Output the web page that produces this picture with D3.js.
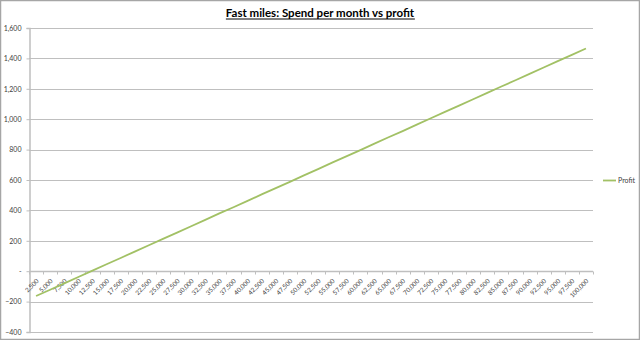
<!DOCTYPE html>
<html>
<head>
<meta charset="utf-8">
<script src="https://cdn.jsdelivr.net/npm/d3@7"></script>
<style>
  html, body { margin: 0; padding: 0; background: #fff; }
  svg { display: block; }
  text { font-family: Lato, "Open Sans", "Liberation Sans", sans-serif; }
</style>
</head>
<body>
<svg id="chart" width="640" height="340"></svg>
<script>
// ---- Data ----
const spend = [
  "2,500","5,000","7,500","10,000","12,500","15,000","17,500","20,000","22,500","25,000",
  "27,500","30,000","32,500","35,000","37,500","40,000","42,500","45,000","47,500","50,000",
  "52,500","55,000","57,500","60,000","62,500","65,000","67,500","70,000","72,500","75,000",
  "77,500","80,000","82,500","85,000","87,500","90,000","92,500","95,000","97,500","100,000"
];
const profit = [
  -163, -122, -80, -38, 4, 46, 87, 129, 171, 213,
  254, 296, 338, 380, 421, 463, 505, 547, 588, 630,
  672, 714, 755, 797, 839, 881, 922, 964, 1006, 1048,
  1089, 1131, 1173, 1215, 1256, 1298, 1340, 1382, 1423, 1465
];
const yTicks = [-400, -200, 0, 200, 400, 600, 800, 1000, 1200, 1400, 1600];
const seriesName = "Profit";
const title = "Fast miles: Spend per month vs profit";

// ---- Layout ----
const W = 640, H = 340;
const plot = { left: 29, right: 593, top: 28, bottom: 332 };
const gridColor = "#bfbfbf";
const lineColor = "#a2c165";
const textColor = "#404040";

const svg = d3.select("#chart");

// border
svg.append("rect")
  .attr("x", 0.5).attr("y", 0.5)
  .attr("width", W - 1).attr("height", H - 1)
  .attr("fill", "#fff").attr("stroke", "#a6a6a6").attr("stroke-width", 1.5);

// scales
const x = d3.scaleBand().domain(spend).range([plot.left, plot.right]).padding(0);
const y = d3.scaleLinear().domain([-400, 1600]).range([plot.bottom, plot.top]);

// gridlines
svg.append("g").selectAll("line").data(yTicks).join("line")
  .attr("x1", plot.left).attr("x2", plot.right)
  .attr("y1", d => Math.round(y(d)) + 0.5).attr("y2", d => Math.round(y(d)) + 0.5)
  .attr("stroke", gridColor).attr("stroke-width", 1);

// y axis
const fmt = d3.format(",");
const yAxis = d3.axisLeft(y).tickValues(yTicks).tickSize(3).tickPadding(5)
  .tickFormat(d => d === 0 ? "-" : fmt(d));
const gy = svg.append("g").attr("transform", `translate(${plot.left + 0.5},0)`).call(yAxis);
gy.select(".domain").attr("stroke", gridColor).attr("stroke-width", 1.5);
gy.selectAll(".tick line").attr("stroke", gridColor);
gy.selectAll(".tick text").attr("fill", textColor).style("font-size", "7px");

// x axis (at y = 0)
const y0 = Math.round(y(0)) + 0.5;
const gx = svg.append("g").attr("transform", `translate(0,${y0})`);
gx.append("line").attr("x1", plot.left).attr("x2", plot.right)
  .attr("y1", 0).attr("y2", 0).attr("stroke", gridColor).attr("stroke-width", 1.5);
const boundaries = spend.map(d => x(d)).concat([x.range()[1]]);
gx.selectAll("line.tk").data(boundaries).join("line").attr("class", "tk")
  .attr("x1", d => Math.round(d) + 0.5).attr("x2", d => Math.round(d) + 0.5)
  .attr("y1", 0).attr("y2", 3).attr("stroke", gridColor);
gx.selectAll("text").data(spend).join("text")
  .attr("transform", d => `translate(${x(d) + x.bandwidth() / 2 + 3},${10}) rotate(-45)`)
  .attr("text-anchor", "end")
  .attr("fill", textColor)
  .style("font-size", "6.3px")
  .text(d => d);

// line
const line = d3.line()
  .x((d, i) => x(spend[i]) + x.bandwidth() / 2)
  .y(d => y(d));
svg.append("path").datum(profit)
  .attr("d", line)
  .attr("fill", "none")
  .attr("stroke", lineColor)
  .attr("stroke-width", 1.8)
  .attr("stroke-linejoin", "round");

// legend
const lg = svg.append("g").attr("transform", "translate(603,180.5)");
lg.append("line").attr("x1", 0).attr("x2", 13).attr("y1", 0).attr("y2", 0)
  .attr("stroke", lineColor).attr("stroke-width", 1.8);
lg.append("text").attr("x", 15).attr("y", 0).attr("dy", "0.35em")
  .attr("fill", textColor).style("font-size", "7px").text(seriesName);

// title
const t = svg.append("text")
  .attr("x", 320).attr("y", 17)
  .attr("text-anchor", "middle")
  .style("font-size", "11.5px").style("font-weight", "bold")
  .attr("fill", "#000")
  .text(title);
const bb = t.node().getBBox();
svg.append("line")
  .attr("x1", bb.x).attr("x2", bb.x + bb.width)
  .attr("y1", 19).attr("y2", 19)
  .attr("stroke", "#000").attr("stroke-width", 1);
</script>
</body>
</html>
